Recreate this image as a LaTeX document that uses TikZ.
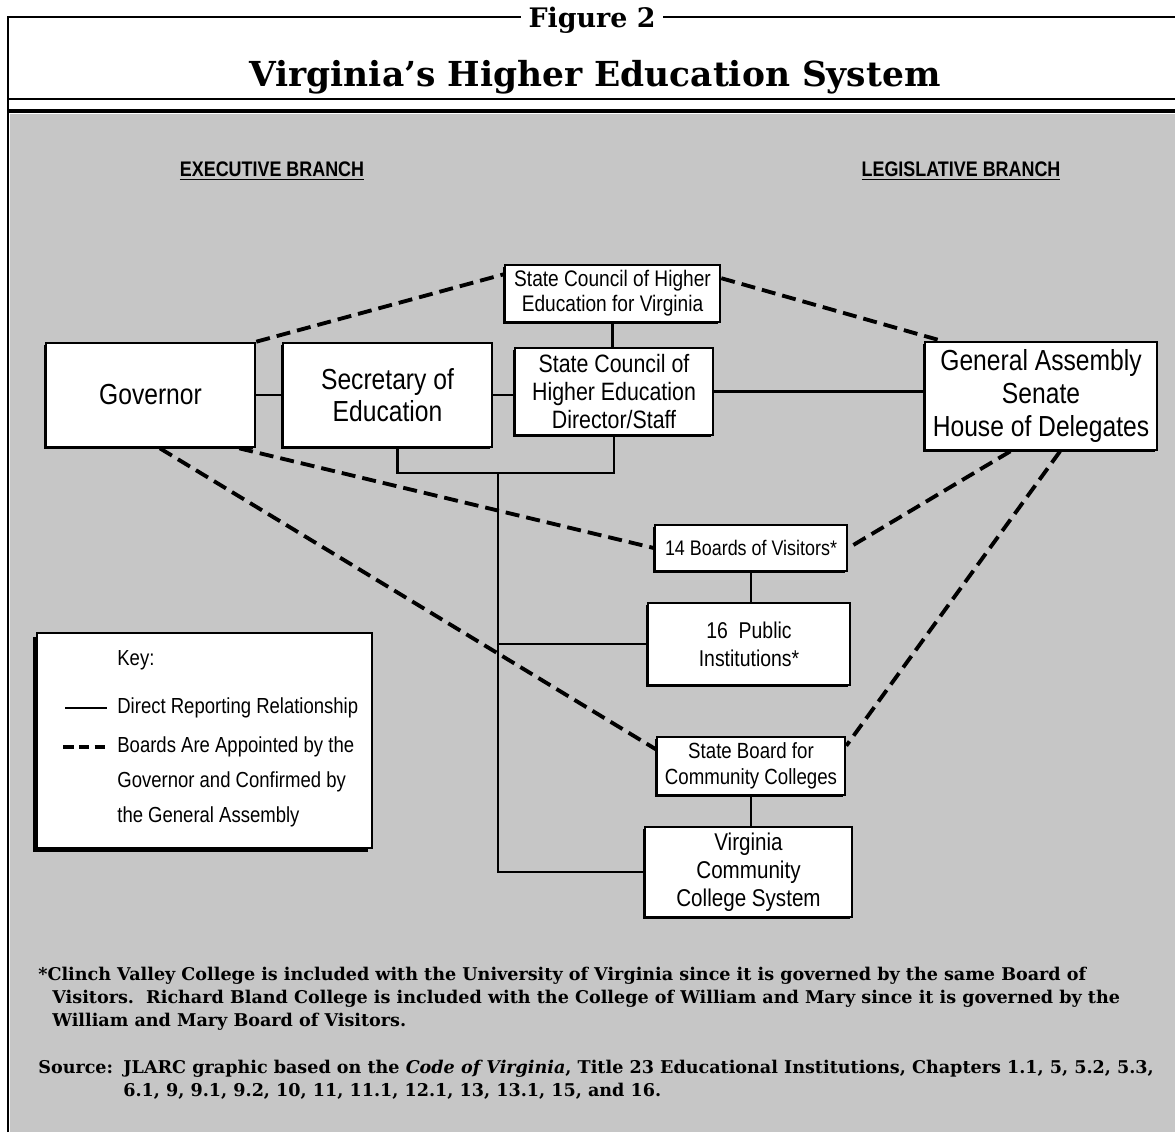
\documentclass[tikz,border=0pt]{standalone}
\usepackage{fontspec}
\setmainfont{DejaVu Serif}
\newfontfamily\boxfont[FakeStretch=0.85]{Liberation Sans}
\usetikzlibrary{shadows}

\tikzset{
	unit/.style={draw, line width=1.5pt, fill=white, inner sep=0pt, align=center,
		general shadow={fill=black, shadow xshift=-1pt, shadow yshift=-1pt}},
	link/.style={line width=1.5pt},
	appoint/.style={line width=2.2pt, dash pattern=on 8pt off 4pt},
	heading/.style={inner sep=0pt, font={\boxfont\bfseries\fontsize{12}{14}\selectfont}},
	keytext/.style={anchor=west, inner sep=0pt, align=left, font={\boxfont\fontsize{12.4}{20}\selectfont}},
	note/.style={anchor=base west, inner sep=0pt, font={\bfseries\fontsize{10}{12}\selectfont}}
}

\begin{document}
\begin{tikzpicture}[x=0.02cm, y=-0.02cm]
	\useasboundingbox (0,0) rectangle (1175,1132);

	% frame and title
	\fill[gray!45] (10,114) rectangle (1175,1132);
	\draw[line width=1.6pt] (8,1132) -- (8,17) -- (1175,17);
	\draw[line width=1pt] (8,99) -- (1175,99);
	\draw[line width=2.4pt] (8,111) -- (1175,111);
	\node (fig) at (592,28) [anchor=base, fill=white, inner xsep=4pt, font={\bfseries\fontsize{15.3}{17}\selectfont}] {Figure 2};
	\node (title) at (595,87) [anchor=base, font={\bfseries\fontsize{19.6}{22}\selectfont}] {Virginia's Higher Education System};

	\node (exec) at (272,171) [heading] {\underline{EXECUTIVE BRANCH}};
	\node (legis) at (961,171) [heading] {\underline{LEGISLATIVE BRANCH}};

	% boxes
	\node (scv) at (612.5,293.5) [unit, minimum width=4.3cm, minimum height=1.14cm, font={\boxfont\fontsize{12.8}{14.2}\selectfont}] {State Council of Higher\\Education for Virginia};
	\node (gov) at (150.5,395) [unit, minimum width=4.18cm, minimum height=2.08cm, font={\boxfont\fontsize{16.5}{18.5}\selectfont}] {Governor};
	\node (sec) at (387.5,395) [unit, minimum width=4.18cm, minimum height=2.08cm, font={\boxfont\fontsize{16.5}{18.5}\selectfont}] {Secretary of\\Education};
	\node (staff) at (614,391.5) [unit, minimum width=3.96cm, minimum height=1.74cm, font={\boxfont\fontsize{14.3}{16}\selectfont}] {State Council of\\Higher Education\\Director/Staff};
	\node (ga) at (1041,396) [unit, minimum width=4.64cm, minimum height=2.16cm, font={\boxfont\fontsize{16.5}{18.5}\selectfont}] {General Assembly\\Senate\\House of Delegates};
	\node (bov) at (751,548) [unit, minimum width=3.84cm, minimum height=0.92cm, font={\boxfont\fontsize{12}{14}\selectfont}] {14 Boards of Visitors*};
	\node (pub) at (749,644) [unit, minimum width=4.04cm, minimum height=1.64cm, font={\boxfont\fontsize{13}{16}\selectfont}] {16~~Public\\Institutions*};
	\node (sbcc) at (751,766) [unit, minimum width=3.76cm, minimum height=1.16cm, font={\boxfont\fontsize{12.5}{14.8}\selectfont}] {State Board for\\Community Colleges};
	\node (vccs) at (748.5,872) [unit, minimum width=4.14cm, minimum height=1.8cm, font={\boxfont\fontsize{13.8}{16}\selectfont}] {Virginia\\Community\\College System};

	% direct reporting
	\coordinate (jn) at (498,473);
	\draw[link] (gov) -- (sec);
	\draw[link] (sec) -- (sec -| staff.west);
	\draw[link] (staff) -- (staff -| ga.west);
	\draw[link] (scv.south) -- (scv.south |- staff.north);
	\draw[link] ([xshift=0.2cm]sec.south) |- (jn) -| (staff.south);
	\draw[link] (jn) |- (pub.west);
	\draw[link] (jn) |- (vccs.west);
	\draw[link] (bov) -- (bov |- pub.north);
	\draw[link] (sbcc) -- (sbcc |- vccs.north);

	% appointed and confirmed
	\draw[appoint] (gov.north east) -- (scv.170);
	\draw[appoint] (scv.8) -- (ga.151);
	\draw[appoint] (gov.-31) -- (bov.west);
	\draw[appoint] (gov.-80) -- (sbcc.170);
	\draw[appoint] (ga.-119) -- (bov.east);
	\draw[appoint] (ga.-71) -- (sbcc.12);

	% key
	\node (key) at (204.5,740.5) [draw, line width=1.3pt, fill=white, minimum width=6.7cm, minimum height=4.3cm,
		general shadow={fill=black, shadow xshift=-2.5pt, shadow yshift=-2.5pt}] {};
	\node (keyhead) at (117,660) [keytext] {Key:};
	\node (keysolid) at (117,708) [keytext] {Direct Reporting Relationship};
	\node (keydash) at (117,782) [keytext] {Boards Are Appointed by the\\Governor and Confirmed by\\the General Assembly};
	\coordinate (ks) at (65,708);
	\coordinate (kd) at (63,747);
	\draw[line width=1pt, shorten >=0.2cm] (ks) -- (keysolid.west);
	\draw[line width=2pt, dash pattern=on 6pt off 3pt, shorten >=0.2cm] (kd) -- (kd -| keysolid.west);

	% notes
	\node (n1) at (38,980) [note] {*Clinch Valley College is included with the University of Virginia since it is governed by the same Board of};
	\node (n2) at (52,1003) [note] {Visitors.~~Richard Bland College is included with the College of William and Mary since it is governed by the};
	\node (n3) at (52,1026) [note] {William and Mary Board of Visitors.};
	\node (src) at (38,1073) [note] {Source:};
	\node (src1) at (123,1073) [note] {JLARC graphic based on the \textit{Code of Virginia}, Title 23 Educational Institutions, Chapters 1.1, 5, 5.2, 5.3,};
	\node (src2) at (123,1096) [note] {6.1, 9, 9.1, 9.2, 10, 11, 11.1, 12.1, 13, 13.1, 15, and 16.};
\end{tikzpicture}
\end{document}
